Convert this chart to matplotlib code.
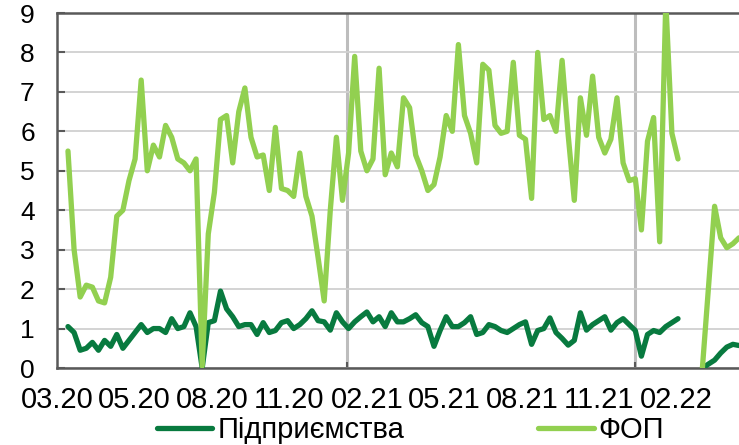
import numpy as np
import matplotlib
matplotlib.use('Agg')
import matplotlib.pyplot as plt

plt.rcParams['font.family'] = ['Liberation Sans', 'DejaVu Sans']

# Datos (indice semanal)
nan = np.nan

fop = [5.5, 3.0, 1.8, 2.1, 2.05, 1.7, 1.65, 2.3, 3.85, 4.0,
       4.75, 5.3, 7.3, 5.0, 5.65, 5.35, 6.15, 5.85, 5.3, 5.2,
       5.0, 5.3, 0.05, 3.4, 4.45, 6.3, 6.4, 5.2, 6.5, 7.1,
       5.85, 5.35, 5.4, 4.5, 6.1, 4.55, 4.5, 4.35, 5.45, 4.35,
       3.85, 2.8, 1.7, 4.0, 5.85, 4.25, 5.45, 7.9, 5.5, 5.0,
       5.3, 7.6, 4.9, 5.45, 5.1, 6.85, 6.6, 5.4, 5.0, 4.5,
       4.65, 5.35, 6.4, 6.0, 8.2, 6.4, 5.95, 5.2, 7.7, 7.55,
       6.15, 5.95, 6.0, 7.75, 5.9, 5.8, 4.3, 8.0, 6.3, 6.4,
       6.0, 7.8, 5.9, 4.25, 6.85, 5.9, 7.4, 5.85, 5.45, 5.8,
       6.85, 5.2, 4.75, 4.8, 3.5, 5.75, 6.35, 3.2, 9.3, 5.95,
       5.3, nan, nan, nan, 0.0, 2.05, 4.1, 3.3, 3.05, 3.15,
       3.3]

pidpr = [1.05, 0.9, 0.45, 0.5, 0.65, 0.45, 0.7, 0.55, 0.85, 0.5,
         0.7, 0.9, 1.1, 0.9, 1.0, 1.0, 0.9, 1.25, 1.0, 1.05,
         1.4, 1.05, 0.0, 1.15, 1.2, 1.95, 1.5, 1.3, 1.05, 1.1,
         1.1, 0.85, 1.15, 0.9, 0.95, 1.15, 1.2, 1.0, 1.1, 1.25,
         1.45, 1.2, 1.17, 0.96, 1.4, 1.17, 1.0, 1.17, 1.3, 1.42,
         1.17, 1.3, 1.05, 1.4, 1.17, 1.17, 1.25, 1.35, 1.15, 1.05,
         0.55, 0.95, 1.3, 1.05, 1.05, 1.15, 1.3, 0.85, 0.9, 1.1,
         1.05, 0.95, 0.9, 1.0, 1.1, 1.17, 0.6, 0.95, 1.0, 1.27,
         0.9, 0.75, 0.58, 0.7, 1.4, 0.96, 1.1, 1.2, 1.3, 0.96,
         1.15, 1.25, 1.1, 0.95, 0.3, 0.85, 0.95, 0.9, 1.05, 1.15,
         1.25, nan, nan, nan, 0.0, 0.1, 0.2, 0.38, 0.53, 0.6,
         0.57]

x_labels = ['03.20', '05.20', '08.20', '11.20', '02.21', '05.21', '08.21', '11.21', '02.22']
label_pos = [-1.8 + 12.7 * k for k in range(len(x_labels))]
year_lines = [45.7, 93.0]

semanas = np.arange(len(fop))

############################################################################

fig = plt.figure(figsize=(7.39, 4.45), dpi=100)
ax = fig.add_axes([57 / 739, 77 / 445, 1 - 57 / 739, 355 / 445])

col_dark = '#087A3F'
col_light = '#92D050'
eje = '#595959'

ax.plot(semanas, pidpr, color=col_dark, lw=3.8, solid_joinstyle='round',
        solid_capstyle='round', label='Підприємства', zorder=3)
ax.plot(semanas, fop, color=col_light, lw=3.8, solid_joinstyle='round',
        solid_capstyle='round', label='ФОП', zorder=4)

ax.set_xlim(-1.8, 110)
ax.set_ylim(0, 9)
ax.set_yticks(range(0, 10))

# lineas verticales de cada anyo + etiquetas de fecha
ax.set_xticks(year_lines)
ax.set_xticklabels(['', ''])
ax.set_xticks(label_pos, minor=True)
ax.set_xticklabels(x_labels, minor=True)

ax.grid(axis='y', color='#D0D0D0', lw=1.3, zorder=0)
ax.grid(axis='x', which='major', color='#BDBDBD', lw=2.2, zorder=0)
ax.set_axisbelow(True)

for lado in ['left', 'bottom', 'top']:
    ax.spines[lado].set_color(eje)
    ax.spines[lado].set_linewidth(1.8)
ax.spines['right'].set_visible(False)

ax.tick_params(axis='y', direction='in', length=6, width=1.5, color=eje,
               labelsize=19, pad=16)
ax.tick_params(axis='x', which='major', direction='in', length=4, width=1.5,
               color=eje)
ax.tick_params(axis='x', which='minor', length=0, labelsize=21, pad=13)

fig.legend(loc='center', bbox_to_anchor=(0.5555, 0.034), ncol=2, frameon=False,
           fontsize=21, handlelength=1.9, handletextpad=0.17,
           columnspacing=4.6, borderaxespad=0)

fig.savefig('out.png', dpi=100)
